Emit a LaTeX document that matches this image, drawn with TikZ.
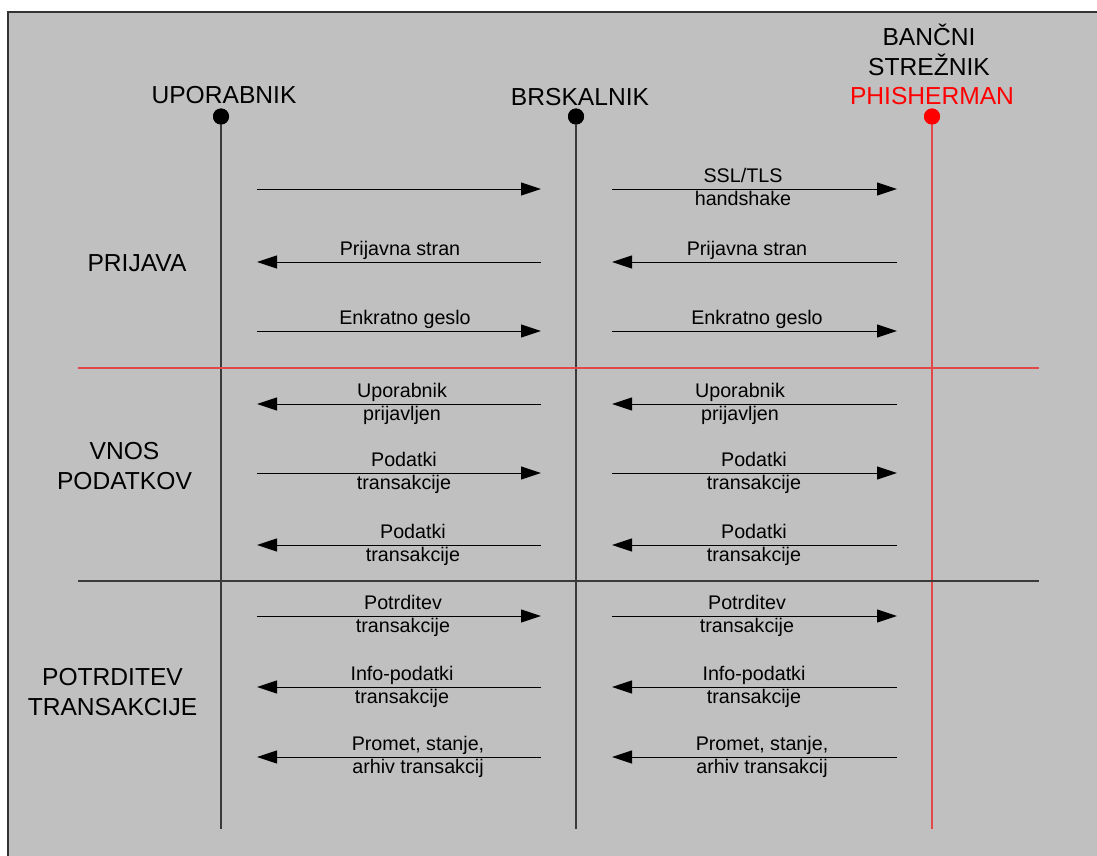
\documentclass[tikz,border=0pt]{standalone}
\usepackage{fontspec}
\setmainfont{Liberation Sans}
\usetikzlibrary{arrows.meta}
\definecolor{panel}{RGB}{192,192,192}
\definecolor{frameline}{RGB}{51,51,51}
\definecolor{lifegray}{RGB}{58,58,58}
\definecolor{softred}{RGB}{226,72,72}
\tikzset{
  party/.style={font=\fontsize{24.6}{30}\selectfont, align=center, anchor=base, inner sep=0pt},
  phase/.style={font=\fontsize{24.6}{30}\selectfont, align=center, anchor=base, inner sep=0pt},
  msglabel/.style={font=\fontsize{19.7}{23.4}\selectfont, align=center, anchor=base, inner sep=0pt},
  lifeline/.style={draw=lifegray, line width=1.6pt},
  redlife/.style={draw=softred, line width=1.6pt},
  msg/.style={draw=black, line width=1pt, -{Triangle[length=20pt,width=13pt]}},
  divider/.style={line width=1.6pt},
  dot/.style={circle, fill=#1, inner sep=0pt, minimum size=16pt}
}
\begin{document}
\begin{tikzpicture}[x=1pt, y=-1pt]
\useasboundingbox (0,0) rectangle (1097,856);
% panel background and its visible frame edges
\fill[panel] (7.5,12.5) rectangle (1097,856);
\draw[frameline, line width=2pt] (7.5,856) -- (7.5,12.5) -- (1097,12.5);

% participants (anchor=base of a multi-line node sits on its last line)
\node[party] (tu) at (224,103.3) {UPORABNIK};
\node[party] (tb) at (580,106) {BRSKALNIK};
\node[party] (ts) at (929,76) {BAN\v{C}NI\\STRE\v{Z}NIK};
\node[party, text=red] (tp) at (932,105) {PHISHERMAN};

% lifelines with their head dots
\node[dot=black] (du) at (221,116.5) {};
\node[dot=black] (db) at (576,116.5) {};
\node[dot=red]   (dp) at (932,116.5) {};
\coordinate (eu) at (221,829);
\coordinate (eb) at (576,829);
\coordinate (ep) at (932,829);
\draw[lifeline] (du.center) -- (eu);
\draw[lifeline] (db.center) -- (eb);
\draw[redlife]  (dp.center) -- (ep);
\node[dot=black] at (du) {};
\node[dot=black] at (db) {};
\node[dot=red]   at (dp) {};

% phase separators
\coordinate (s1a) at (78,367.7);
\coordinate (s1b) at (1039,367.7);
\coordinate (s2a) at (78,580.7);
\coordinate (s2b) at (1039,580.7);
\draw[divider, softred] (s1a) -- (s1b);
\draw[divider, lifegray] (s2a) -- (s2b);

% phase names
\node[phase] (p1) at (137,271) {PRIJAVA};
\node[phase] (p2) at (124.5,489) {VNOS\\PODATKOV};
\node[phase] (p3) at (112.5,715) {POTRDITEV\\TRANSAKCIJE};

% message rows: y, direction (1 = to the right), label baseline offset,
% left label x, right label x, texts
\foreach \i/\y/\dir/\off/\lx/\rx/\ltext/\rtext in {
  1/189/1/16.4/400/743/{}/{SSL/TLS\\handshake},
  2/262/0/-7/400/747/{Prijavna stran}/{Prijavna stran},
  3/331/1/-7/405/757/{Enkratno geslo}/{Enkratno geslo},
  4/404/0/16.4/402/740/{Uporabnik\\prijavljen}/{Uporabnik\\prijavljen},
  5/473/1/16.4/404/754/{Podatki\\transakcije}/{Podatki\\transakcije},
  6/545/0/16.4/413/754/{Podatki\\transakcije}/{Podatki\\transakcije},
  7/616/1/16.4/403/747/{Potrditev\\transakcije}/{Potrditev\\transakcije},
  8/687/0/16.4/402/754/{Info-podatki\\transakcije}/{Info-podatki\\transakcije},
  9/757/0/16.4/418/762/{Promet, stanje,\\arhiv transakcij}/{Promet, stanje,\\arhiv transakcij}} {
  \coordinate (la\i) at (257,\y);
  \coordinate (lb\i) at (541,\y);
  \coordinate (ra\i) at (612,\y);
  \coordinate (rb\i) at (897,\y);
  \ifnum\dir=1
    \draw[msg] (la\i) -- (lb\i);
    \draw[msg] (ra\i) -- (rb\i);
  \else
    \draw[msg] (lb\i) -- (la\i);
    \draw[msg] (rb\i) -- (ra\i);
  \fi
  \node[msglabel] (ml\i) at (\lx,\y+\off) {\ltext};
  \node[msglabel] (mr\i) at (\rx,\y+\off) {\rtext};
}
\end{tikzpicture}
\end{document}
